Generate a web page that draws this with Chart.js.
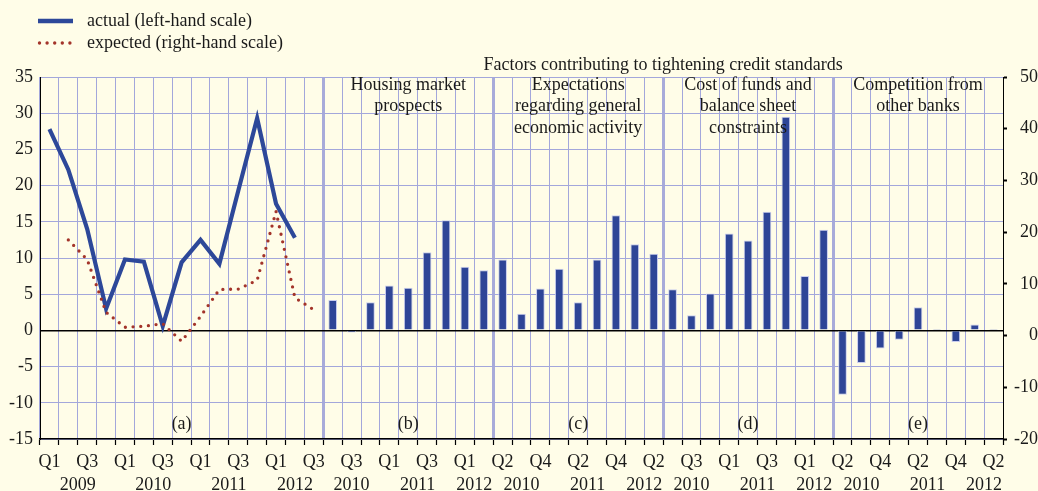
<!DOCTYPE html>
<html><head><meta charset="utf-8">
<script src="https://cdn.jsdelivr.net/npm/chart.js@4/dist/chart.umd.min.js"></script>
<style>html,body{margin:0;padding:0;background:#fffde8;}#wrap{width:1038px;height:491px;}</style>
</head><body><div id="wrap"><canvas id="c" width="1038" height="491"></canvas></div>
<script>
// ---- data ----
const panelAQuarters = ['Q1 2009','Q2 2009','Q3 2009','Q4 2009','Q1 2010','Q2 2010','Q3 2010','Q4 2010','Q1 2011','Q2 2011','Q3 2011','Q4 2011','Q1 2012','Q2 2012','Q3 2012'];
const factorQuarters = ['Q2 2010','Q3 2010','Q4 2010','Q1 2011','Q2 2011','Q3 2011','Q4 2011','Q1 2012','Q2 2012'];
const actual   = [27.8, 22.2, 14.0, 3.0, 9.8, 9.5, 0.6, 9.4, 12.5, 9.2, 19.3, 29.3, 17.5, 12.8, null];
const expected = [null, 18.5, 14.7, 4.5, 1.6, 1.8, 2.3, -1.1, 3.7, 8.9, 9.0, 10.7, 24.0, 7.3, 5.0];
const housingMarket    = [4.2, -0.3, 3.9, 6.2, 5.9, 10.8, 15.2, 8.8, 8.3];
const economicActivity = [9.8, 2.3, 5.8, 8.5, 3.9, 9.8, 15.9, 11.9, 10.6];
const costOfFunds      = [5.7, 2.1, 5.1, 13.4, 12.4, 16.4, 29.5, 7.5, 13.9];
const competition      = [-8.9, -4.5, -2.5, -1.3, 3.2, 0.2, -1.6, 0.8, 0.2];
const leftTicks  = {min: -15, max: 35, step: 5};
const rightTicks = {min: -20, max: 50, step: 10};
const mainTitle = 'Factors contributing to tightening credit standards';
const panelTitles = [[], ['Housing market','prospects'], ['Expectations','regarding general','economic activity'], ['Cost of funds and','balance sheet','constraints'], ['Competition from','other banks']];
const panelLetters = ['(a)','(b)','(c)','(d)','(e)'];
const legendLabels = ['actual (left-hand scale)','expected (right-hand scale)'];

// ---- derived ----
const panels = [panelAQuarters, factorQuarters, factorQuarters, factorQuarters, factorQuarters];
const labels = [].concat(...panels);
const panelStarts = [];
{ let s = 0; panels.forEach(p => { panelStarts.push(s); s += p.length; }); }
const sepIdx = panelStarts.slice(1);
const nullsA = n => Array(n).fill(null);
const restLen = labels.length - panelAQuarters.length;
const barData = nullsA(panelAQuarters.length).concat(housingMarket, economicActivity, costOfFunds, competition);
const actualData = actual.concat(nullsA(restLen));
const expectedData = expected.concat(nullsA(restLen));
const yearTicks = [];
panels.forEach((p, pi) => {
  const groups = {};
  p.forEach((q, i) => { const y = q.split(' ')[1]; (groups[y] = groups[y] || []).push(panelStarts[pi] + i); });
  Object.keys(groups).forEach(y => { const g = groups[y]; yearTicks.push({value: (g[0] + g[g.length-1]) / 2, label: y}); });
});

const FONT = '"Liberation Serif", "Times New Roman", serif';
const TXT = '#1a1a1a';
const GRID = '#a3a7db';
const SEP = '#a8abd9';

const textPlugin = {
  id: 'texts',
  afterDraw(chart) {
    const ctx = chart.ctx, x = chart.scales.x;
    ctx.save();
    ctx.font = '18px ' + FONT;
    ctx.fillStyle = TXT;
    ctx.textAlign = 'center';
    ctx.textBaseline = 'middle';
    const centers = panels.map((p, pi) => (x.getPixelForValue(panelStarts[pi]) + x.getPixelForValue(panelStarts[pi] + p.length - 1)) / 2);
    const tc = (x.getPixelForValue(panelStarts[1]) + x.getPixelForValue(labels.length - 1)) / 2;
    ctx.fillText(mainTitle, tc, 65);
    panelTitles.forEach((lines, pi) => lines.forEach((l, li) => ctx.fillText(l, centers[pi], 85 + li * 21.5)));
    panelLetters.forEach((l, pi) => ctx.fillText(l, centers[pi], 424));
    // legend
    ctx.textAlign = 'left';
    ctx.fillText(legendLabels[0], 87, 21);
    ctx.fillText(legendLabels[1], 87, 43);
    ctx.strokeStyle = '#2d4899';
    ctx.lineWidth = 4.5;
    ctx.beginPath(); ctx.moveTo(38, 21); ctx.lineTo(73, 21); ctx.stroke();
    ctx.fillStyle = '#a3342a';
    for (let i = 0; i < 5; i++) { ctx.beginPath(); ctx.arc(39.5 + i * 7.6, 43, 1.7, 0, Math.PI * 2); ctx.fill(); }
    ctx.restore();
  }
};

new Chart(document.getElementById('c'), {
  data: {
    labels: labels,
    datasets: [
      {type: 'line', label: legendLabels[1], data: expectedData, yAxisID: 'y2', borderColor: '#a3342a', borderWidth: 3.3,
       borderDash: [0, 7.7], borderCapStyle: 'round', pointRadius: 0, tension: 0, spanGaps: false, order: 1},
      {type: 'line', label: legendLabels[0], data: actualData, yAxisID: 'y', borderColor: '#2d4899', borderWidth: 4.2,
       pointRadius: 0, tension: 0, borderJoinStyle: 'miter', order: 2},
      {type: 'bar', label: 'factors', data: barData, yAxisID: 'y', backgroundColor: '#2e4597', borderColor: '#c9cdee',
       borderWidth: 1, barPercentage: 0.46, categoryPercentage: 1, order: 3}
    ]
  },
  options: {
    responsive: false, animation: false, devicePixelRatio: 1,
    layout: {padding: {top: 77, bottom: 0, left: 0, right: 0}},
    plugins: {legend: {display: false}, tooltip: {enabled: false}},
    scales: {
      x: {
        type: 'category', offset: true, position: 'bottom', weight: 0,
        grid: {offset: true, color: c => sepIdx.includes(c.index) ? SEP : GRID,
               lineWidth: c => sepIdx.includes(c.index) ? 3 : 1,
               drawTicks: true, tickLength: 6, tickColor: '#000', tickWidth: 1.2},
        border: {display: true, color: '#000', width: 1.5},
        ticks: {autoSkip: false, maxRotation: 0, minRotation: 0, padding: 6, color: TXT, font: {family: FONT, size: 18},
                callback: (v, i) => i % 2 === 0 ? labels[i].split(' ')[0] : ''},
        afterFit: s => { s.height = 35; }
      },
      xYear: {
        type: 'linear', position: 'bottom', weight: 1, min: -0.5, max: labels.length - 0.5,
        grid: {display: false, drawTicks: false}, border: {display: false},
        afterBuildTicks: s => { s.ticks = yearTicks.map(t => ({value: t.value})); },
        ticks: {autoSkip: false, maxRotation: 0, padding: 0, color: TXT, font: {family: FONT, size: 18},
                callback: v => { const t = yearTicks.find(t => Math.abs(t.value - v) < 1e-6); return t ? t.label : ''; }},
        afterFit: s => { s.height = 17; }
      },
      y: {
        position: 'left', min: leftTicks.min, max: leftTicks.max,
        ticks: {stepSize: leftTicks.step, padding: 7, color: TXT, font: {family: FONT, size: 18}},
        grid: {color: c => c.tick && c.tick.value === 0 ? '#000' : GRID, lineWidth: c => c.tick && c.tick.value === 0 ? 1.6 : 1, drawTicks: false},
        border: {display: true, color: '#000', width: 1},
        afterFit: s => { s.width = 40; }
      },
      y2: {
        position: 'right', min: rightTicks.min, max: rightTicks.max,
        ticks: {stepSize: rightTicks.step, padding: 2, crossAlign: 'far', color: TXT, font: {family: FONT, size: 18}},
        grid: {drawOnChartArea: false, drawTicks: true, tickLength: 4, tickColor: '#000', tickWidth: 2},
        border: {display: true, color: '#000', width: 1},
        afterFit: s => { s.width = 35; }
      }
    }
  },
  plugins: [textPlugin]
});
</script></body></html>
